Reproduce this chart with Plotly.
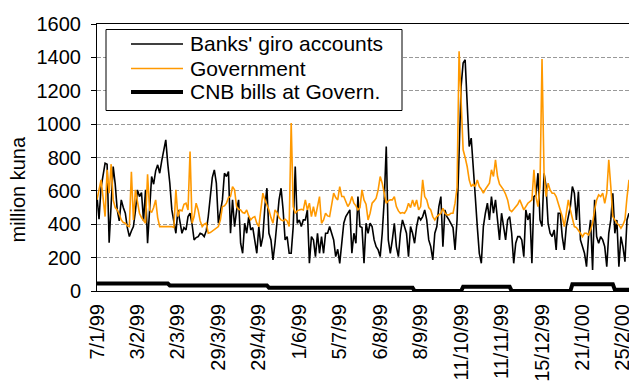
import plotly.graph_objects as go

FONT = "Liberation Sans, Arial, sans-serif"
ORANGE = "#FF9900"

# tick labels, one every 20 trading days
tickLabels = ["7/1/99", "3/2/99", "2/3/99", "29/3/99", "29/4/99", "1/6/99",
              "5/7/99", "6/8/99", "8/9/99", "11/10/99", "11/11/99",
              "15/12/99", "21/1/00", "25/2/00"]
tickStep = 20

banks = [566, 430, 620, 700, 766, 760, 290, 520, 746, 640,
         486, 420, 546, 500, 466, 380, 326, 360, 386, 480,
         606, 566, 590, 420, 606, 286, 520, 686, 640, 720,
         756, 706, 780, 846, 906, 760, 646, 486, 420, 346,
         486, 420, 346, 380, 366, 446, 466, 400, 306, 320,
         326, 346, 340, 326, 360, 446, 546, 680, 726, 646,
         406, 480, 546, 706, 686, 716, 346, 546, 386, 480,
         546, 286, 226, 406, 346, 446, 366, 380, 306, 226,
         386, 266, 326, 506, 616, 346, 306, 186, 286, 420,
         546, 616, 486, 306, 326, 226, 226, 386, 746, 406,
         426, 386, 426, 426, 486, 166, 326, 306, 206, 346,
         226, 326, 226, 346, 346, 386, 340, 306, 206, 250,
         166, 300, 406, 446, 466, 486, 226, 346, 286, 566,
         386, 380, 166, 406, 346, 406, 386, 306, 266, 246,
         206, 346, 546, 866, 306, 226, 306, 406, 266, 206,
         346, 426, 386, 346, 206, 386, 346, 286, 386, 446,
         426, 446, 486, 426, 306, 266, 186, 346, 386, 506,
         566, 266, 486, 446, 426, 406, 380, 246, 426, 826,
         1226, 1366, 1386, 1126, 866, 916, 706, 566, 386, 226,
         166, 386, 466, 526, 426, 566, 466, 546, 426, 306,
         466, 386, 306, 426, 446, 346, 166, 286, 326, 326,
         306, 206, 486, 426, 466, 166, 566, 576, 706, 426,
         386, 706, 626, 406, 346, 326, 366, 246, 466, 466,
         326, 246, 386, 446, 506, 626, 586, 426, 596, 306,
         266, 226, 146, 326, 426, 126, 546, 326, 286, 326,
         306, 266, 146, 346, 426, 586, 346, 426, 146, 326,
         266, 176, 426, 466]

government = [546, 600, 666, 560, 446, 726, 586, 760, 546, 500,
              486, 460, 426, 410, 406, 390, 386, 714, 426, 606,
              540, 466, 440, 420, 406, 700, 486, 470, 500, 546,
              440, 386, 386, 390, 386, 386, 390, 386, 380, 606,
              446, 486, 480, 520, 526, 486, 836, 406, 446, 526,
              486, 420, 386, 400, 406, 346, 350, 360, 366, 380,
              386, 426, 506, 510, 526, 560, 566, 626, 606, 506,
              490, 486, 470, 466, 486, 450, 426, 440, 446, 406,
              386, 486, 586, 546, 520, 486, 440, 406, 486, 470,
              440, 426, 420, 430, 420, 386, 1006, 506, 466, 480,
              486, 490, 486, 546, 486, 526, 446, 506, 446, 506,
              566, 406, 426, 466, 450, 446, 526, 586, 560, 546,
              626, 566, 566, 540, 506, 526, 566, 526, 510, 486,
              500, 606, 546, 520, 426, 466, 526, 540, 556, 606,
              686, 646, 586, 526, 540, 546, 546, 566, 506, 480,
              466, 470, 466, 486, 526, 500, 546, 506, 546, 486,
              506, 666, 566, 546, 500, 486, 446, 426, 446, 456,
              466, 496, 466, 456, 456, 466, 466, 526, 620, 1436,
              1126, 846, 800, 746, 666, 626, 640, 626, 666, 626,
              610, 586, 610, 626, 646, 726, 686, 786, 686, 640,
              626, 606, 580, 546, 486, 476, 490, 506, 520, 546,
              510, 486, 506, 526, 536, 546, 726, 566, 506, 626,
              1390, 706, 566, 646, 606, 586, 586, 566, 526, 486,
              446, 386, 466, 546, 486, 426, 386, 380, 366, 346,
              326, 346, 346, 336, 366, 406, 486, 546, 576, 566,
              586, 526, 586, 786, 626, 446, 426, 406, 396, 376,
              396, 426, 560, 666]

# CNB bills: day index where the level changes, and the level
cnbDay = [0, 35, 36, 84, 85, 156, 157, 180, 181, 204, 205, 234, 235, 255, 256, 263]
cnbLevel = [45, 45, 33, 33, 20, 20, 0, 0, 25, 25, 0, 0, 40, 40, 8, 8]

seriesNames = ["Banks' giro accounts", "Government", "CNB bills at Govern."]
seriesColors = ["black", ORANGE, "black"]
seriesWidths = [1.6, 1.6, 4]

# figure size / margins (page body adds an 8px offset)
W, H = 629, 375
L, R, T, B = 89, 8, 16, 92
plotW = W - L - R
plotH = H - T - B


def paperX(px):
    return (px - L) / plotW


def paperY(py):
    return (H - B - py) / plotH


days = list(range(len(banks)))
tickVals = [i * tickStep for i in range(len(tickLabels))]

fig = go.Figure()
fig.add_trace(go.Scatter(x=days, y=banks, mode="lines", name=seriesNames[0],
                         line=dict(color=seriesColors[0], width=seriesWidths[0])))
fig.add_trace(go.Scatter(x=days, y=government, mode="lines", name=seriesNames[1],
                         line=dict(color=seriesColors[1], width=seriesWidths[1])))
fig.add_trace(go.Scatter(x=cnbDay, y=cnbLevel, mode="lines", name=seriesNames[2],
                         line=dict(color=seriesColors[2], width=seriesWidths[2])))

# legend drawn by hand to get the tight row spacing of the original
shapes = [dict(type="rect", xref="paper", yref="paper",
               x0=paperX(98), x1=paperX(394), y0=paperY(102.5), y1=paperY(21.5),
               line=dict(color="black", width=1), fillcolor="white",
               layer="above")]
annotations = []
rowY = [36, 60.5, 84]
for name, color, width, ry in zip(seriesNames, seriesColors, seriesWidths, rowY):
    shapes.append(dict(type="line", xref="paper", yref="paper",
                       x0=paperX(123), x1=paperX(175),
                       y0=paperY(ry), y1=paperY(ry),
                       line=dict(color=color, width=width), layer="above"))
    annotations.append(dict(text=name, xref="paper", yref="paper",
                            x=paperX(180), y=paperY(ry), xanchor="left",
                            yanchor="middle", showarrow=False,
                            font=dict(size=21)))

annotations.append(dict(text="million kuna", xref="paper", yref="paper",
                        x=paperX(9.5), y=paperY(182), textangle=-90,
                        xanchor="center", yanchor="middle", showarrow=False,
                        font=dict(size=20)))

fig.update_layout(
    width=W, height=H,
    margin=dict(l=L, r=R, t=T, b=B),
    plot_bgcolor="white", paper_bgcolor="white",
    font=dict(family=FONT, size=20, color="black"),
    showlegend=False,
    shapes=shapes,
    annotations=annotations,
)
fig.update_xaxes(range=[0, len(banks) - 1], tickmode="array",
                 tickvals=tickVals, ticktext=tickLabels, tickangle=-90,
                 showgrid=False, showline=True, linecolor="black",
                 linewidth=1, mirror=True, ticks="", ticklabelstandoff=4,
                 zeroline=False, automargin=False)
fig.update_yaxes(range=[0, 1600], dtick=200, showgrid=True,
                 gridcolor="#999999", griddash="4px,2px", gridwidth=1,
                 showline=True, linecolor="black", linewidth=1, mirror=True,
                 ticks="outside", ticklen=5, tickcolor="black",
                 ticklabelstandoff=6, zeroline=False, automargin=False)

fig.write_html("out.html")
